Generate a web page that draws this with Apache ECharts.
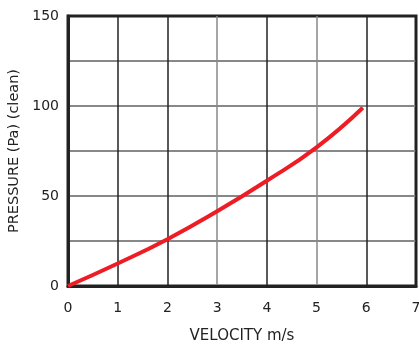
<!DOCTYPE html>
<html>
<head>
<meta charset="utf-8">
<script src="https://cdn.jsdelivr.net/npm/echarts@6/dist/echarts.min.js"></script>
<style>
  html, body { margin: 0; padding: 0; background: #fff; }
  #chart { width: 419px; height: 344px; }
</style>
</head>
<body>
<div id="chart"></div>
<script>
// values
const velocity = [0, 1, 2, 3, 4, 5, 5.93];
const pressure = [0, 12.5, 26, 41.5, 58.5, 77, 99];
const yLabels = [0, 50, 100, 150];

const chart = echarts.init(document.getElementById('chart'));
const font = 'DejaVu Sans';

chart.setOption({
    animation: false,
    grid: {
        left: 68, right: 3, top: 16, bottom: 58,
        outerBoundsMode: 'none',
        show: true,
        borderColor: '#222',
        borderWidth: 3
    },
    xAxis: {
        type: 'value',
        min: 0, max: 7, interval: 1,
        name: 'VELOCITY m/s',
        nameLocation: 'middle',
        nameGap: 43,
        nameTextStyle: { color: '#222', fontSize: 15, fontFamily: font },
        axisLine: { show: true, lineStyle: { color: '#222', width: 3 } },
        axisTick: { show: false },
        axisLabel: { color: '#222', fontSize: 14, fontFamily: font, margin: 15 },
        splitLine: {
            show: true,
            lineStyle: {
                color: ['#222', '#222', '#222', '#888', '#222', '#888', '#222', '#222'],
                width: 1.5
            }
        }
    },
    yAxis: {
        type: 'value',
        min: 0, max: 150, interval: 25,
        name: 'PRESSURE (Pa) (clean)',
        nameLocation: 'middle',
        nameGap: 42,
        nameTextStyle: { color: '#222', fontSize: 14.5, fontFamily: font },
        axisLine: { show: true, lineStyle: { color: '#222', width: 3 } },
        axisTick: { show: false },
        axisLabel: {
            color: '#222', fontSize: 14, fontFamily: font, margin: 9,
            formatter: v => yLabels.includes(v) ? String(v) : ''
        },
        splitLine: {
            show: true,
            lineStyle: {
                color: ['#888', '#888', '#888', '#888', '#888', '#888', '#222'],
                width: 2
            }
        }
    },
    series: [{
        type: 'line',
        data: velocity.map((v, i) => [v, pressure[i]]),
        smooth: true,
        showSymbol: false,
        lineStyle: { color: '#ee1c25', width: 4 }
    }]
});
</script>
</body>
</html>
